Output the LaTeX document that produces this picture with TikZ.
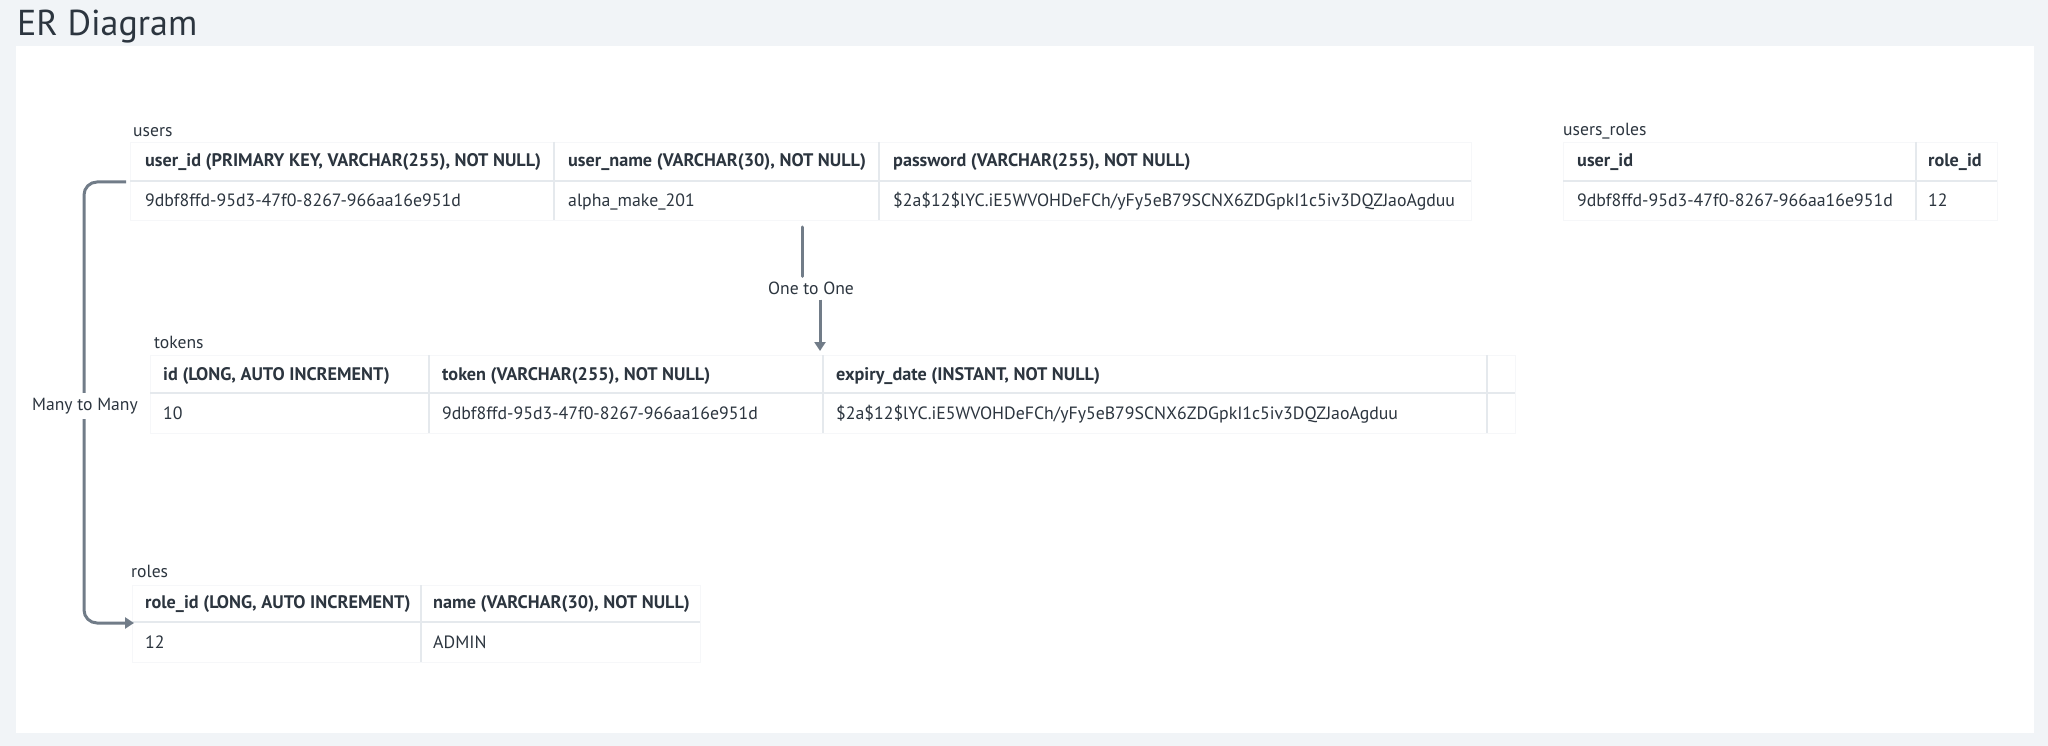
\documentclass[tikz,border=0pt]{standalone}
\usepackage{fontspec}
\setmainfont{PT Sans}
\usetikzlibrary{arrows.meta, calc, positioning}

\definecolor{pagebg}{HTML}{F1F4F7}
\definecolor{inktext}{HTML}{2C353F}
\definecolor{rulegray}{HTML}{E5E9ED}
\definecolor{linkgray}{HTML}{717C88}

\tikzset{
  tablebox/.style={fill=white, draw=rulegray!35, line width=0.8pt},
  colrule/.style={draw=rulegray, line width=1.5pt},
  rowrule/.style={draw=rulegray, line width=2.2pt},
  headcell/.style={anchor=base west, inner sep=0pt, text=inktext, font=\fontsize{18.2}{20}\selectfont\bfseries},
  datacell/.style={anchor=base west, inner sep=0pt, text=inktext, font=\fontsize{17.8}{19}\selectfont},
  tablename/.style={anchor=base west, inner sep=0pt, text=inktext, font=\fontsize{17.6}{19}\selectfont},
  link/.style={draw=linkgray, line width=3pt, rounded corners=13pt},
  linklabel/.style={text=inktext, fill=white, inner sep=5pt, font=\fontsize{17.6}{19}\selectfont},
}

\begin{document}
\begin{tikzpicture}[x=1pt, y=-1pt]
% Page and panel
\useasboundingbox (0,0) rectangle (2048,746);
\fill[pagebg] (0,0) rectangle (2048,746);
\fill[white] (16,46) rectangle (2034,733);
\node[anchor=base west, inner sep=0pt, text=inktext, font=\fontsize{36}{38}\selectfont] (title) at (17,36) {ER Diagram};

% users
\node[tablename] (usersname) at (133,137) {users};
\draw[tablebox] (130,142) rectangle (1471,220);
\draw[rowrule] (130,181) -- (1471,181);
\foreach \x in {554,879} \draw[colrule] (\x,142) -- (\x,220);
\node[headcell] (usersh1) at (145,167) {user\_id (PRIMARY KEY, VARCHAR(255), NOT NULL)};
\node[headcell] (usersh2) at (568,167) {user\_name (VARCHAR(30), NOT NULL)};
\node[headcell] (usersh3) at (893,167) {password (VARCHAR(255), NOT NULL)};
\node[datacell] (usersd1) at (145,207) {9dbf8ffd-95d3-47f0-8267-966aa16e951d};
\node[datacell] (usersd2) at (568,207) {alpha\_make\_201};
\node[datacell] (usersd3) at (893,207) {\$2a\$12\$lYC.iE5WVOHDeFCh/yFy5eB79SCNX6ZDGpkI1c5iv3DQZJaoAgduu};

% users_roles
\node[tablename] (urname) at (1563,136) {users\_roles};
\draw[tablebox] (1563,142) rectangle (1997,220);
\draw[rowrule] (1563,181) -- (1997,181);
\draw[colrule] (1916,142) -- (1916,220);
\node[headcell] (urh1) at (1577,167) {user\_id};
\node[headcell] (urh2) at (1928,167) {role\_id};
\node[datacell] (urd1) at (1577,207) {9dbf8ffd-95d3-47f0-8267-966aa16e951d};
\node[datacell] (urd2) at (1928,207) {12};

% tokens
\node[tablename] (tokensname) at (154,348) {tokens};
\draw[tablebox] (150,355) rectangle (1515,433);
\draw[rowrule] (150,393) -- (1515,393);
\foreach \x in {429,823,1487} \draw[colrule] (\x,355) -- (\x,433);
\node[headcell] (tokensh1) at (163,380) {id (LONG, AUTO INCREMENT)};
\node[headcell] (tokensh2) at (442,380) {token (VARCHAR(255), NOT NULL)};
\node[headcell] (tokensh3) at (836,380) {expiry\_date (INSTANT, NOT NULL)};
\node[datacell] (tokensd1) at (163,419) {10};
\node[datacell] (tokensd2) at (442,419) {9dbf8ffd-95d3-47f0-8267-966aa16e951d};
\node[datacell] (tokensd3) at (836,419) {\$2a\$12\$lYC.iE5WVOHDeFCh/yFy5eB79SCNX6ZDGpkI1c5iv3DQZJaoAgduu};

% roles
\node[tablename] (rolesname) at (131,577) {roles};
\draw[tablebox] (132,585) rectangle (700,662);
\draw[rowrule] (132,622) -- (700,622);
\draw[colrule] (421,585) -- (421,662);
\node[headcell] (rolesh1) at (145,608) {role\_id (LONG, AUTO INCREMENT)};
\node[headcell] (rolesh2) at (433,608) {name (VARCHAR(30), NOT NULL)};
\node[datacell] (rolesd1) at (145,648) {12};
\node[datacell] (rolesd2) at (433,648) {ADMIN};

% One to One
\coordinate (usersfoot) at (802,227);
\coordinate (tokenstop) at (820,351);
\node[linklabel] (onetoone) at (811,288) {One to One};
\draw[link, line cap=round] (usersfoot) -- (usersfoot |- onetoone.north);
\draw[link, -{Triangle[length=9pt, width=11pt]}] (tokenstop |- onetoone.south) -- (tokenstop);

% Many to Many
\coordinate (usersside) at (126,182);
\coordinate (rolesside) at (134,623);
\draw[link, -{Triangle[length=9pt, width=11pt]}] (usersside) -- (84,182) -- (84,623) -- (rolesside);
\node[linklabel] (manytomany) at (85,406) {Many to Many};
\end{tikzpicture}
\end{document}
